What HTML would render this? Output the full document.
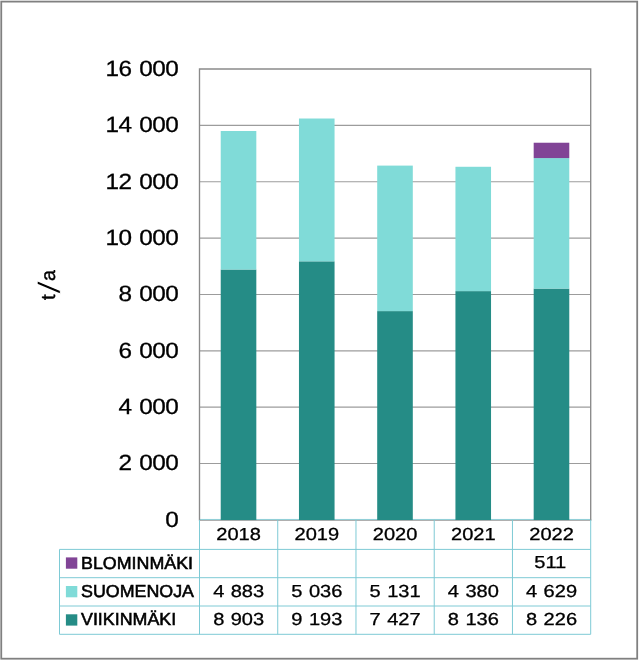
<!DOCTYPE html>
<html lang="fi"><head><meta charset="utf-8"><title>t/a</title>
<style>html,body{margin:0;padding:0;background:#fff}body{width:640px;height:662px;overflow:hidden}svg{display:block}text{font-family:"Liberation Sans",sans-serif;fill:#000;text-rendering:geometricPrecision}.ax{font-size:22.0px;letter-spacing:-0.45px;word-spacing:0.9px}.tb{font-size:17.4px;word-spacing:0.7px}text{stroke:#000;stroke-width:0.4px}.tb,.ax{stroke-width:0.3px}.lg{font-size:17.3px;stroke-width:0.55px}</style></head><body>
<svg width="640" height="662" viewBox="0 0 640 662">
<rect x="0" y="0" width="640" height="662" fill="#fff"/>
<rect x="1.25" y="1.6" width="635.95" height="657.1" fill="none" stroke="#808080" stroke-width="1.8"/>
<line x1="199.5" x2="590.7" y1="125.36" y2="125.36" stroke="#9c9c9c" stroke-width="1.15"/>
<line x1="199.5" x2="590.7" y1="181.72" y2="181.72" stroke="#9c9c9c" stroke-width="1.15"/>
<line x1="199.5" x2="590.7" y1="238.09" y2="238.09" stroke="#9c9c9c" stroke-width="1.15"/>
<line x1="199.5" x2="590.7" y1="294.45" y2="294.45" stroke="#9c9c9c" stroke-width="1.15"/>
<line x1="199.5" x2="590.7" y1="350.81" y2="350.81" stroke="#9c9c9c" stroke-width="1.15"/>
<line x1="199.5" x2="590.7" y1="407.17" y2="407.17" stroke="#9c9c9c" stroke-width="1.15"/>
<line x1="199.5" x2="590.7" y1="463.54" y2="463.54" stroke="#9c9c9c" stroke-width="1.15"/>
<line x1="198.9" x2="591.3000000000001" y1="520.25" y2="520.25" stroke="#949494" stroke-width="1.1"/>
<line x1="199.0" x2="591.2" y1="519.4499999999999" y2="519.4499999999999" stroke="#7ecad5" stroke-width="1.0" opacity="0.85"/>
<rect x="220.72" y="269.50" width="35.6" height="250.55" fill="#258c86"/>
<rect x="220.72" y="130.99" width="35.6" height="138.51" fill="#80dbd8"/>
<rect x="298.96" y="261.33" width="35.6" height="258.72" fill="#258c86"/>
<rect x="298.96" y="118.51" width="35.6" height="142.82" fill="#80dbd8"/>
<rect x="377.20" y="311.10" width="35.6" height="208.95" fill="#258c86"/>
<rect x="377.20" y="165.60" width="35.6" height="145.50" fill="#80dbd8"/>
<rect x="455.44" y="291.12" width="35.6" height="228.93" fill="#258c86"/>
<rect x="455.44" y="166.78" width="35.6" height="124.33" fill="#80dbd8"/>
<rect x="533.68" y="288.58" width="35.6" height="231.47" fill="#258c86"/>
<rect x="533.68" y="158.08" width="35.6" height="130.50" fill="#80dbd8"/>
<rect x="533.68" y="142.73" width="35.6" height="15.35" fill="#814496"/>
<path d="M199.5 520.1999999999999 V69.0 H590.7 V520.1999999999999" fill="none" stroke="#8a8a8a" stroke-width="1.35"/>
<text class="ax" transform="translate(178.75 75.95) scale(1.105 1)" text-anchor="end"><tspan x="-42.67">16</tspan><tspan x="-0.45"> 000</tspan></text>
<text class="ax" transform="translate(178.75 132.31) scale(1.105 1)" text-anchor="end"><tspan x="-42.67">14</tspan><tspan x="-0.45"> 000</tspan></text>
<text class="ax" transform="translate(178.75 188.67) scale(1.105 1)" text-anchor="end"><tspan x="-42.67">12</tspan><tspan x="-0.45"> 000</tspan></text>
<text class="ax" transform="translate(178.75 245.04) scale(1.105 1)" text-anchor="end"><tspan x="-42.67">10</tspan><tspan x="-0.45"> 000</tspan></text>
<text class="ax" transform="translate(178.75 301.40) scale(1.105 1)" text-anchor="end"><tspan x="-42.67">8</tspan><tspan x="-0.45"> 000</tspan></text>
<text class="ax" transform="translate(178.75 357.76) scale(1.105 1)" text-anchor="end"><tspan x="-42.67">6</tspan><tspan x="-0.45"> 000</tspan></text>
<text class="ax" transform="translate(178.75 414.12) scale(1.105 1)" text-anchor="end"><tspan x="-42.67">4</tspan><tspan x="-0.45"> 000</tspan></text>
<text class="ax" transform="translate(178.75 470.49) scale(1.105 1)" text-anchor="end"><tspan x="-42.67">2</tspan><tspan x="-0.45"> 000</tspan></text>
<text class="ax" transform="translate(178.75 526.85) scale(1.105 1)" text-anchor="end"><tspan x="-0.45">0</tspan></text>
<g transform="translate(55.4 299.8) rotate(-90)" style="font-size:20px"><text transform="translate(-0.2 0)">t</text><text transform="translate(5.6 4.8) scale(1.55 1)" style="font-size:31.5px;stroke:#fff;stroke-width:0.9px">/</text><text transform="translate(18.7 0) scale(0.98 1)">a</text></g>
<g stroke="#7ecad5" stroke-width="1" fill="none">
<line x1="59.5" x2="590.7" y1="549.4" y2="549.4"/>
<line x1="59.5" x2="590.7" y1="577.7" y2="577.7"/>
<line x1="59.5" x2="590.7" y1="606.0" y2="606.0"/>
<line x1="59.5" x2="590.7" y1="634.3" y2="634.3"/>
<line x1="59.5" x2="59.5" y1="549.4" y2="634.3"/>
<line x1="199.50" x2="199.50" y1="519.9" y2="634.3"/>
<line x1="277.74" x2="277.74" y1="519.9" y2="634.3"/>
<line x1="355.98" x2="355.98" y1="519.9" y2="634.3"/>
<line x1="434.22" x2="434.22" y1="519.9" y2="634.3"/>
<line x1="512.46" x2="512.46" y1="519.9" y2="634.3"/>
<line x1="590.70" x2="590.70" y1="519.9" y2="634.3"/>
</g>
<rect x="65.9" y="557.4" width="11.4" height="11.3" fill="#814496"/>
<text class="lg" transform="translate(81.0 568.6) scale(1.032 1)">BLOMINMÄKI</text>
<rect x="65.9" y="586.0" width="11.4" height="11.3" fill="#80dbd8"/>
<text class="lg" transform="translate(81.0 597.1) scale(1.032 1)">SUOMENOJA</text>
<rect x="65.9" y="614.3" width="11.4" height="11.3" fill="#258c86"/>
<text class="lg" transform="translate(81.0 625.3) scale(1.032 1)">VIIKINMÄKI</text>
<text class="tb" transform="translate(238.62 539.6) scale(1.153 1)" text-anchor="middle">2018</text>
<text class="tb" transform="translate(238.62 597.1) scale(1.153 1)" text-anchor="middle">4 883</text>
<text class="tb" transform="translate(238.62 625.2) scale(1.153 1)" text-anchor="middle">8 903</text>
<text class="tb" transform="translate(316.86 539.6) scale(1.153 1)" text-anchor="middle">2019</text>
<text class="tb" transform="translate(316.86 597.1) scale(1.153 1)" text-anchor="middle">5 036</text>
<text class="tb" transform="translate(316.86 625.2) scale(1.153 1)" text-anchor="middle">9 193</text>
<text class="tb" transform="translate(395.10 539.6) scale(1.153 1)" text-anchor="middle">2020</text>
<text class="tb" transform="translate(395.10 597.1) scale(1.153 1)" text-anchor="middle">5 131</text>
<text class="tb" transform="translate(395.10 625.2) scale(1.153 1)" text-anchor="middle">7 427</text>
<text class="tb" transform="translate(473.34 539.6) scale(1.153 1)" text-anchor="middle">2021</text>
<text class="tb" transform="translate(473.34 597.1) scale(1.153 1)" text-anchor="middle">4 380</text>
<text class="tb" transform="translate(473.34 625.2) scale(1.153 1)" text-anchor="middle">8 136</text>
<text class="tb" transform="translate(551.58 539.6) scale(1.153 1)" text-anchor="middle">2022</text>
<text class="tb" transform="translate(550.28 568.4) scale(1.153 1)" text-anchor="middle">511</text>
<text class="tb" transform="translate(551.58 597.1) scale(1.153 1)" text-anchor="middle">4 629</text>
<text class="tb" transform="translate(551.58 625.2) scale(1.153 1)" text-anchor="middle">8 226</text>
</svg></body></html>
